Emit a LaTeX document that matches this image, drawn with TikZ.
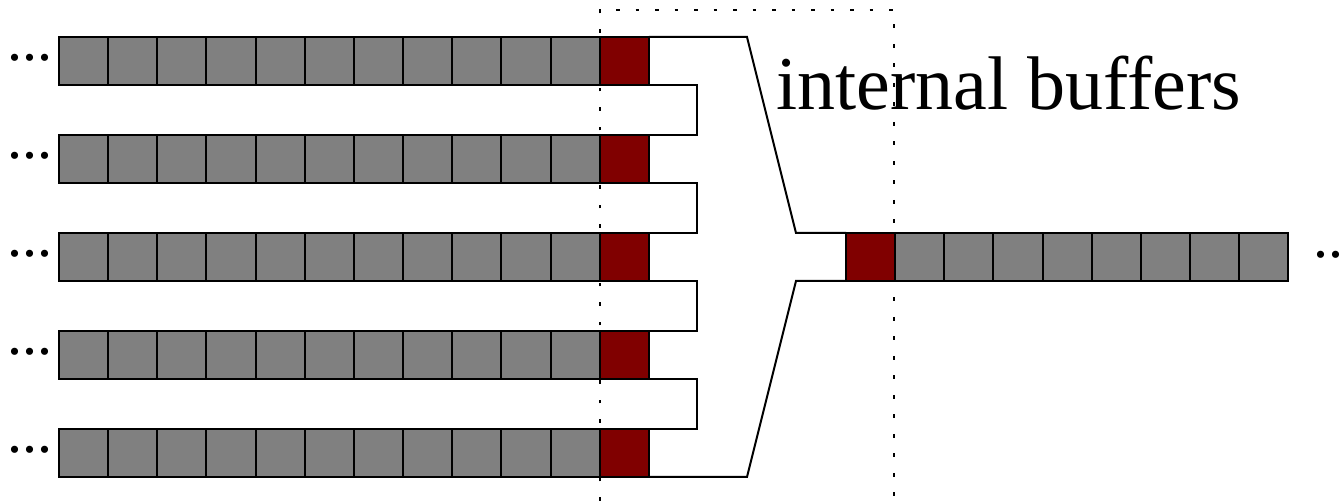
\documentclass[tikz,border=0pt]{standalone}
\usepackage{fontspec}
\setmainfont{Liberation Serif}
\definecolor{cellgray}{HTML}{808080}
\definecolor{cellred}{HTML}{800000}
\begin{document}
\begin{tikzpicture}[x=0.5pt,y=-0.5pt,line width=1pt,
  cellbox/.style={draw=black,line width=1pt,minimum width=24.575pt,minimum height=24pt,inner sep=0pt,outer sep=0pt,anchor=north west},
  gcell/.style={cellbox,fill=cellgray},
  rcell/.style={cellbox,fill=cellred},
  frameline/.style={line width=1pt,dash pattern=on 1.8pt off 7.95pt},
  outline/.style={line width=1pt,line join=miter},
  dotstext/.style={inner sep=0pt,anchor=base west,font=\fontsize{30}{31}\selectfont},
  labeltext/.style={inner sep=0pt,anchor=base west,font=\fontsize{38}{40}\selectfont}]
\useasboundingbox (0,0) rectangle (1340,501);
% dotted frame
\coordinate (fbl) at (600,501);
\coordinate (ftl) at (600,10);
\coordinate (ftr) at (894,10);
\coordinate (fbr) at (894,501);
\draw[frameline] (fbl) -- (ftl) -- (ftr) -- (fbr);
% input rows
\foreach \r [count=\ri] in {37,135,233,331,429}{
  \foreach \i in {0,...,10}{
    \node[gcell] (g\ri-\i) at ({59+\i*49.15},\r) {};
  }
  \node[rcell] (r\ri) at (599.65,\r) {};
  \node[dotstext] (d\ri) at (7,{\r+24}) {...};
}
% output row
\node[rcell] (o) at (846,233) {};
\foreach \k in {1,...,8}{
  \node[gcell] (og\k) at ({846+\k*49.15},233) {};
}
\node[dotstext] (od) at (1312,258) {...};
% funnel outline
\coordinate (tt) at (747,37);
\coordinate (tm) at (796,233);
\coordinate (bb) at (747,477);
\coordinate (bm) at (796,281);
\draw[outline] (r1.north east) -- (tt) -- (tm) -- (o.north west);
\draw[outline] (r5.south east) -- (bb) -- (bm) -- (o.south west);
\foreach \a/\b in {1/2,2/3,3/4,4/5}{
  \draw[outline] (r\a.south east) -- ++(48,0) |- (r\b.north east);
}
\node[labeltext] (lbl) at (775,110) {internal buffers};
\end{tikzpicture}
\end{document}
